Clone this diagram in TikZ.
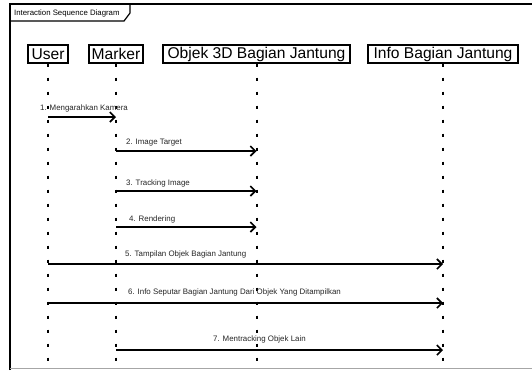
\documentclass[tikz,border=0pt]{standalone}
\usepackage{fontspec}
\setmainfont{Liberation Sans}
\usetikzlibrary{arrows.meta}
\begin{document}
\begin{tikzpicture}[x=1pt,y=-1pt,
  headbox/.style={draw,line width=1.4pt,minimum height=18pt,inner sep=0pt,
    font=\fontsize{15.6}{16}\selectfont},
  lifeline/.style={line width=2pt,dash pattern=on 3pt off 11pt},
  msg/.style={line width=2pt,-{Straight Barb[length=5pt,width=10pt,line width=1.6pt]}},
  msglabel/.style={anchor=west,inner sep=0pt,font=\fontsize{7.9}{8}\selectfont,text=black!85}]
\useasboundingbox (0,0) rectangle (532,370);
\fill[white] (0,0) rectangle (532,370);

% frame and title tab
\draw[line width=2.5pt] (10,370) -- (10,4) -- (533,4);
\draw[black!35,line width=0.8pt] (10,368) -- (532,368);
\draw[line width=1.2pt] (10,21) -- (124,21) -- (130,13) -- (130,4);
\node[anchor=west,inner sep=0pt,font=\fontsize{7.8}{8}\selectfont] (title) at (14,13) {Interaction Sequence Diagram};

% participants
\node[headbox,minimum width=40pt]  (user)   at (48,54)    {User};
\node[headbox,minimum width=54pt]  (marker) at (116,54)   {Marker};
\node[headbox,minimum width=187pt] (objek)  at (256.5,54) {Objek 3D Bagian Jantung};
\node[headbox,minimum width=150pt] (info)   at (443,54)   {Info Bagian Jantung};

% lifeline ends
\coordinate (userE)   at (48,370);
\coordinate (markerE) at (116,370);
\coordinate (objekE)  at (256.5,370);
\coordinate (infoE)   at (443,370);

\draw[lifeline] (user.south)   -- (userE);
\draw[lifeline] (marker.south) -- (markerE);
\draw[lifeline] (objek.south)  -- (objekE);
\draw[lifeline] (info.south)   -- (infoE);

% message anchor points on the lifelines
\foreach \y/\n in {117/1,264/5,303/6} {
  \coordinate (u\n) at (48,\y);
}
\foreach \y/\n in {117/1,151/2,191/3,227/4,350/7} {
  \coordinate (m\n) at (116,\y);
}
\foreach \y/\n in {151/2,191/3,227/4} {
  \coordinate (o\n) at (256.5,\y);
}
\foreach \y/\n in {264/5,303/6,350/7} {
  \coordinate (i\n) at (443,\y);
}

% messages
\draw[msg] (u1) -- (m1);
\node[msglabel] (l1) at (40,108) {1. Mengarahkan Kamera};
\draw[msg] (m2) -- (o2);
\node[msglabel] (l2) at (126,143) {2. Image Target};
\draw[msg] (m3) -- (o3);
\node[msglabel] (l3) at (126,183) {3. Tracking Image};
\draw[msg] (m4) -- (o4);
\node[msglabel] (l4) at (129,219) {4. Rendering};
\draw[msg] (u5) -- (i5);
\node[msglabel] (l5) at (125,254) {5. Tampilan Objek Bagian Jantung};
\draw[msg] (u6) -- (i6);
\node[msglabel] (l6) at (128,292) {6. Info Seputar Bagian Jantung Dari Objek Yang Ditampilkan};
\draw[msg] (m7) -- (i7);
\node[msglabel] (l7) at (213,339) {7. Mentracking Objek Lain};
\end{tikzpicture}
\end{document}
